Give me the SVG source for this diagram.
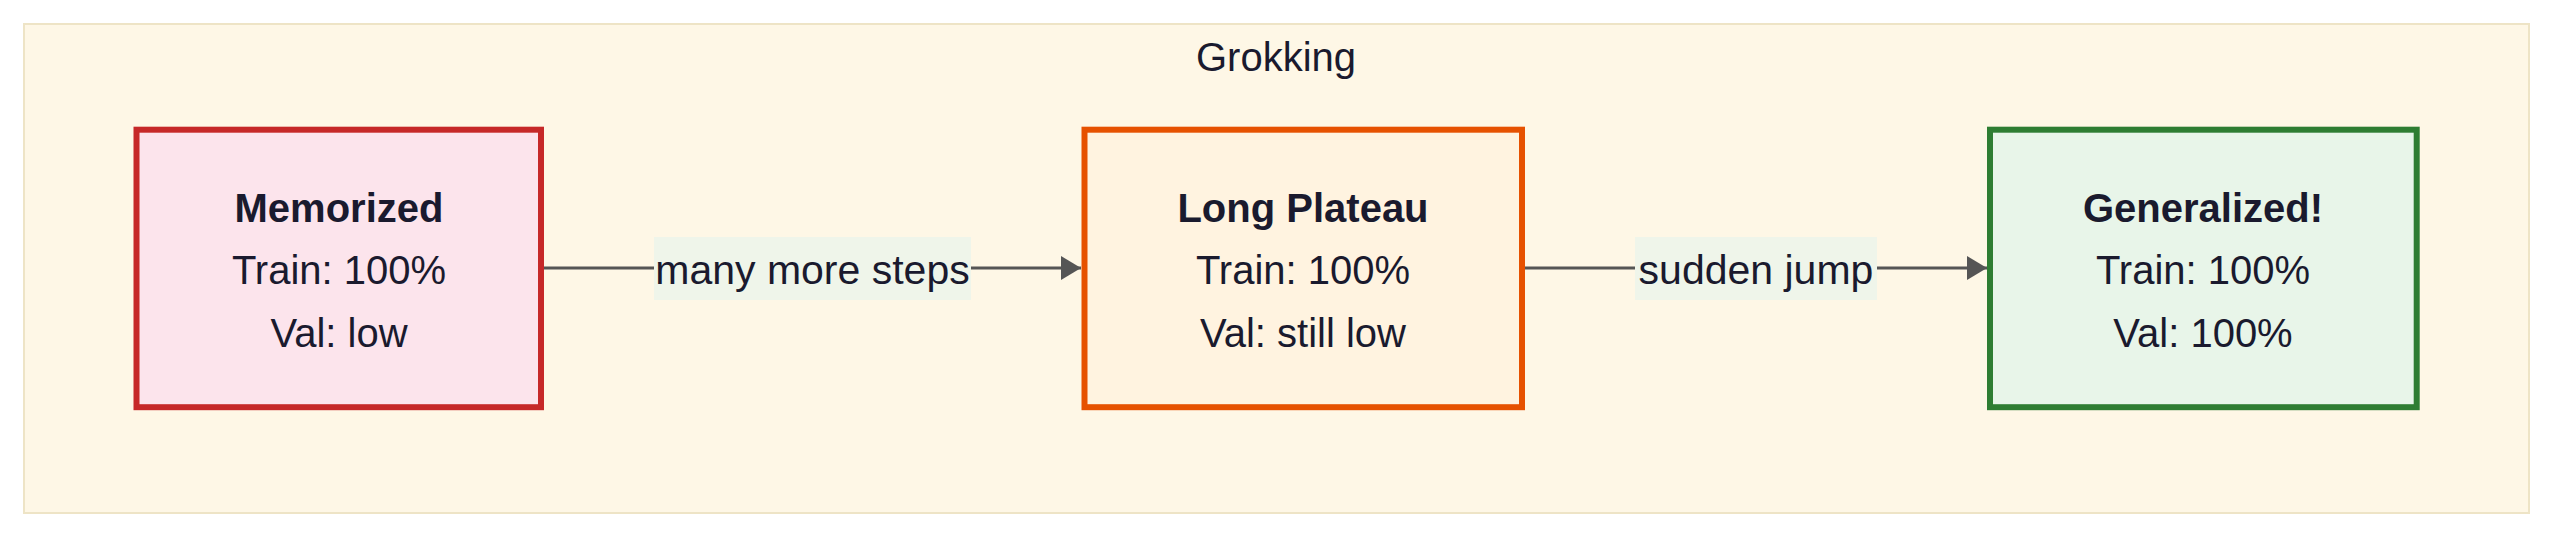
<svg xmlns="http://www.w3.org/2000/svg" width="2556" height="537" viewBox="0 0 2556 537">
<style>
  text { font-family: "Liberation Sans", Arial, sans-serif; fill: #1a1a2e; }
  .title { font-size: 40px; text-anchor: middle; }
  .head { font-size: 40px; font-weight: bold; text-anchor: middle; }
  .line { font-size: 40px; text-anchor: middle; }
  .lbl { font-size: 41px; text-anchor: middle; }
  .lblbg { fill: #eff5ea; }
  .edge { stroke: #555555; stroke-width: 3; fill: none; }
</style>
<defs>
  <marker id="arrow" markerWidth="20" markerHeight="24" refX="20" refY="12" orient="auto" markerUnits="userSpaceOnUse">
    <path d="M0,0 L20,12 L0,24 Z" fill="#555555"/>
  </marker>
</defs>
<rect width="2556" height="537" fill="#ffffff"/>
<g id="cluster-grokking">
  <rect x="24" y="24" width="2505" height="489" fill="#fef7e6" stroke="#eee4c6" stroke-width="2"/>
  <text class="title" x="1276" y="71">Grokking</text>
</g>
<g id="connectors">
  <line class="edge" x1="544" y1="268" x2="1081" y2="268" marker-end="url(#arrow)"/>
  <rect class="lblbg" x="654" y="237" width="317" height="63"/>
  <text class="lbl" x="812.5" y="284">many more steps</text>
  <line class="edge" x1="1525" y1="268" x2="1987" y2="268" marker-end="url(#arrow)"/>
  <rect class="lblbg" x="1635" y="237" width="242" height="63"/>
  <text class="lbl" x="1756" y="284">sudden jump</text>
</g>
<g id="node-memorized">
  <rect x="136.5" y="129.7" width="404.5" height="277.5" fill="#fce4ec" stroke="#c62828" stroke-width="6"/>
  <text class="head" x="339" y="222">Memorized</text>
  <text class="line" x="339" y="284">Train: 100%</text>
  <text class="line" x="339" y="347">Val: low</text>
</g>
<g id="node-plateau">
  <rect x="1084.5" y="129.7" width="437.5" height="277.5" fill="#fff3e0" stroke="#e65100" stroke-width="6"/>
  <text class="head" x="1303" y="222">Long Plateau</text>
  <text class="line" x="1303" y="284">Train: 100%</text>
  <text class="line" x="1303" y="347">Val: still low</text>
</g>
<g id="node-generalized">
  <rect x="1990" y="129.7" width="426.7" height="277.5" fill="#e8f5e9" stroke="#2e7d32" stroke-width="6"/>
  <text class="head" x="2203" y="222">Generalized!</text>
  <text class="line" x="2203" y="284">Train: 100%</text>
  <text class="line" x="2203" y="347">Val: 100%</text>
</g>
</svg>
